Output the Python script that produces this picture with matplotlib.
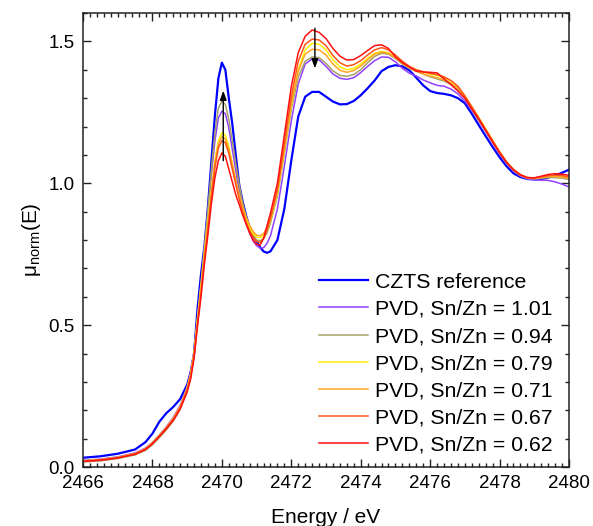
import matplotlib
matplotlib.use("Agg")
import matplotlib.pyplot as plt
from matplotlib.ticker import MultipleLocator

plt.rcParams['font.family'] = ['Liberation Sans', 'DejaVu Sans']
plt.rcParams['mathtext.fontset'] = 'custom'
plt.rcParams['mathtext.rm'] = 'Liberation Sans'
plt.rcParams['mathtext.it'] = 'Liberation Sans'
plt.rcParams['mathtext.default'] = 'regular'

energy = [2466.0, 2466.5, 2467.0, 2467.5, 2467.8, 2468.0, 2468.2, 2468.4, 2468.6, 2468.8,
          2469.0, 2469.1, 2469.2, 2469.3, 2469.4, 2469.5, 2469.6, 2469.7, 2469.8, 2469.9,
          2470.0, 2470.1, 2470.2, 2470.3, 2470.4, 2470.5, 2470.6, 2470.7, 2470.8, 2470.9,
          2471.0, 2471.1, 2471.2, 2471.3, 2471.4, 2471.6, 2471.8, 2472.0, 2472.2, 2472.4,
          2472.6, 2472.8, 2473.0, 2473.2, 2473.4, 2473.6, 2473.8, 2474.0, 2474.2, 2474.4,
          2474.6, 2474.8, 2475.0, 2475.2, 2475.4, 2475.6, 2475.8, 2476.0, 2476.2, 2476.4,
          2476.6, 2476.8, 2477.0, 2477.2, 2477.4, 2477.6, 2477.8, 2478.0, 2478.2, 2478.4,
          2478.6, 2478.8, 2479.0, 2479.2, 2479.4, 2479.6, 2479.8, 2480.0]

czts_ref = [0.033, 0.038, 0.047, 0.062, 0.088, 0.118, 0.160, 0.190, 0.212, 0.240,
            0.290, 0.335, 0.400, 0.560, 0.680, 0.780, 0.920, 1.080, 1.240, 1.370,
            1.425, 1.400, 1.300, 1.210, 1.100, 0.995, 0.935, 0.885, 0.845, 0.815,
            0.795, 0.775, 0.760, 0.755, 0.760, 0.800, 0.910, 1.080, 1.235, 1.305,
            1.322, 1.322, 1.305, 1.288, 1.278, 1.279, 1.290, 1.310, 1.335, 1.362,
            1.395, 1.410, 1.416, 1.412, 1.398, 1.372, 1.345, 1.325, 1.318, 1.315,
            1.310, 1.300, 1.282, 1.245, 1.205, 1.166, 1.128, 1.092, 1.060, 1.035,
            1.022, 1.015, 1.014, 1.015, 1.020, 1.028, 1.037, 1.048]

pvd_101 = [0.024, 0.028, 0.036, 0.050, 0.067, 0.087, 0.113, 0.142, 0.175, 0.218,
           0.283, 0.335, 0.410, 0.530, 0.650, 0.770, 0.900, 1.030, 1.150, 1.230,
           1.254, 1.245, 1.195, 1.120, 1.045, 0.970, 0.910, 0.862, 0.825, 0.797,
           0.780, 0.772, 0.773, 0.788, 0.815, 0.910, 1.060, 1.220, 1.350, 1.420,
           1.438, 1.435, 1.412, 1.385, 1.370, 1.366, 1.372, 1.390, 1.412, 1.432,
           1.445, 1.444, 1.428, 1.405, 1.388, 1.378, 1.364, 1.354, 1.345, 1.342,
           1.332, 1.315, 1.290, 1.258, 1.220, 1.182, 1.143, 1.104, 1.070, 1.043,
           1.025, 1.015, 1.012, 1.011, 1.010, 1.005, 0.997, 0.987]

pvd_094 = [0.018, 0.022, 0.030, 0.043, 0.059, 0.079, 0.104, 0.131, 0.162, 0.204,
           0.268, 0.318, 0.395, 0.520, 0.645, 0.775, 0.910, 1.050, 1.180, 1.265,
           1.289, 1.278, 1.225, 1.150, 1.070, 0.995, 0.930, 0.880, 0.843, 0.815,
           0.800, 0.797, 0.805, 0.825, 0.860, 0.955, 1.105, 1.260, 1.375, 1.430,
           1.445, 1.443, 1.422, 1.396, 1.380, 1.377, 1.383, 1.400, 1.425, 1.447,
           1.458, 1.455, 1.440, 1.420, 1.405, 1.395, 1.385, 1.375, 1.368, 1.360,
           1.348, 1.330, 1.300, 1.262, 1.222, 1.184, 1.146, 1.107, 1.073, 1.046,
           1.028, 1.018, 1.016, 1.018, 1.020, 1.020, 1.018, 1.013]

pvd_079 = [0.022, 0.026, 0.034, 0.047, 0.064, 0.084, 0.110, 0.138, 0.170, 0.212,
           0.278, 0.328, 0.405, 0.525, 0.640, 0.755, 0.870, 0.980, 1.080, 1.150,
           1.177, 1.170, 1.130, 1.070, 1.010, 0.955, 0.910, 0.872, 0.843, 0.822,
           0.810, 0.808, 0.815, 0.835, 0.868, 0.965, 1.115, 1.275, 1.400, 1.470,
           1.493, 1.490, 1.470, 1.435, 1.410, 1.400, 1.405, 1.420, 1.440, 1.458,
           1.465, 1.460, 1.445, 1.425, 1.410, 1.400, 1.392, 1.385, 1.380, 1.372,
           1.360, 1.340, 1.308, 1.270, 1.232, 1.192, 1.152, 1.112, 1.076, 1.048,
           1.030, 1.020, 1.019, 1.022, 1.025, 1.026, 1.024, 1.020]

pvd_071 = [0.022, 0.026, 0.034, 0.048, 0.065, 0.086, 0.112, 0.140, 0.172, 0.214,
           0.278, 0.327, 0.400, 0.515, 0.630, 0.745, 0.860, 0.970, 1.070, 1.140,
           1.163, 1.157, 1.120, 1.065, 1.010, 0.960, 0.918, 0.882, 0.852, 0.830,
           0.817, 0.815, 0.823, 0.842, 0.875, 0.970, 1.120, 1.280, 1.395, 1.455,
           1.472, 1.470, 1.452, 1.420, 1.398, 1.391, 1.397, 1.413, 1.435, 1.455,
           1.462, 1.458, 1.443, 1.423, 1.408, 1.395, 1.385, 1.378, 1.372, 1.364,
           1.352, 1.335, 1.303, 1.265, 1.228, 1.188, 1.149, 1.110, 1.075, 1.048,
           1.030, 1.020, 1.018, 1.020, 1.023, 1.024, 1.022, 1.018]

pvd_067 = [0.021, 0.025, 0.033, 0.046, 0.063, 0.083, 0.109, 0.136, 0.167, 0.208,
           0.270, 0.318, 0.392, 0.505, 0.615, 0.730, 0.845, 0.955, 1.055, 1.125,
           1.150, 1.143, 1.105, 1.050, 0.995, 0.945, 0.900, 0.862, 0.832, 0.810,
           0.795, 0.792, 0.805, 0.835, 0.875, 0.980, 1.140, 1.305, 1.430, 1.490,
           1.508, 1.505, 1.485, 1.450, 1.425, 1.413, 1.418, 1.432, 1.452, 1.470,
           1.478, 1.470, 1.452, 1.430, 1.412, 1.400, 1.393, 1.387, 1.383, 1.375,
           1.362, 1.342, 1.308, 1.270, 1.230, 1.190, 1.150, 1.110, 1.075, 1.048,
           1.030, 1.020, 1.019, 1.023, 1.027, 1.029, 1.027, 1.022]

pvd_062 = [0.020, 0.024, 0.032, 0.045, 0.062, 0.082, 0.108, 0.135, 0.165, 0.205,
           0.265, 0.310, 0.385, 0.500, 0.600, 0.720, 0.820, 0.930, 1.020, 1.080,
           1.107, 1.095, 1.050, 1.005, 0.960, 0.925, 0.888, 0.855, 0.825, 0.800,
           0.785, 0.782, 0.805, 0.850, 0.895, 1.000, 1.170, 1.340, 1.460, 1.518,
           1.540, 1.532, 1.510, 1.475, 1.448, 1.434, 1.436, 1.450, 1.468, 1.485,
           1.488, 1.475, 1.445, 1.425, 1.410, 1.395, 1.392, 1.391, 1.389, 1.368,
           1.348, 1.325, 1.300, 1.262, 1.226, 1.186, 1.146, 1.108, 1.074, 1.048,
           1.030, 1.020, 1.019, 1.025, 1.031, 1.034, 1.032, 1.028]

labels = ['CZTS reference', 'PVD, Sn/Zn = 1.01', 'PVD, Sn/Zn = 0.94', 'PVD, Sn/Zn = 0.79',
          'PVD, Sn/Zn = 0.71', 'PVD, Sn/Zn = 0.67', 'PVD, Sn/Zn = 0.62']
series = [czts_ref, pvd_101, pvd_094, pvd_079, pvd_071, pvd_067, pvd_062]
colors = ['#0000FF', '#9340FF', '#A5A266', '#FFF000', '#FFA526', '#FF5519', '#FF1010']
widths = [1.6, 1.1, 1.1, 1.1, 1.1, 1.1, 1.1]

fig = plt.figure(figsize=(5.93, 5.26), dpi=100)
ax = fig.add_axes([0.14, 0.112, 0.8195, 0.8633])

for y, lab, c, lw in zip(series, labels, colors, widths):
    ax.plot(energy, y, color=c, lw=lw, label=lab)

# arrows indicating trends
ax.annotate('', xy=(2470.04, 1.336), xytext=(2470.04, 1.07),
            arrowprops=dict(arrowstyle='-|>,head_length=0.55,head_width=0.2', color='black', lw=1.0))
ax.annotate('', xy=(2472.68, 1.395), xytext=(2472.68, 1.556),
            arrowprops=dict(arrowstyle='-|>,head_length=0.55,head_width=0.2', color='black', lw=1.0))

ax.set_xlim(2466, 2480)
ax.set_ylim(0.0, 1.6)
ax.xaxis.set_major_locator(MultipleLocator(2))
ax.xaxis.set_minor_locator(MultipleLocator(0.2))
ax.yaxis.set_major_locator(MultipleLocator(0.5))
ax.yaxis.set_minor_locator(MultipleLocator(0.1))
ax.tick_params(which='both', direction='in', top=True, right=True, width=1.0, colors='#222222')
ax.tick_params(which='major', length=5.5, labelsize=13.5, labelcolor='black')
ax.tick_params(which='minor', length=3)
ax.tick_params(axis='x', which='major', pad=6)
ax.tick_params(axis='y', which='major', pad=6)
for s in ax.spines.values():
    s.set_linewidth(1.1)
    s.set_color('#222222')

ax.set_xlabel('Energy / eV', fontsize=15, labelpad=11)
ax.set_ylabel(r'$\mu_{norm}$(E)', fontsize=15, labelpad=4)

leg = ax.legend(loc='upper left', bbox_to_anchor=(0.486, 0.428), frameon=False, fontsize=15.3,
                handlelength=2.3, handletextpad=0.33, labelspacing=0.385, borderaxespad=0,
                borderpad=0)

fig.savefig('out.png', dpi=100)
